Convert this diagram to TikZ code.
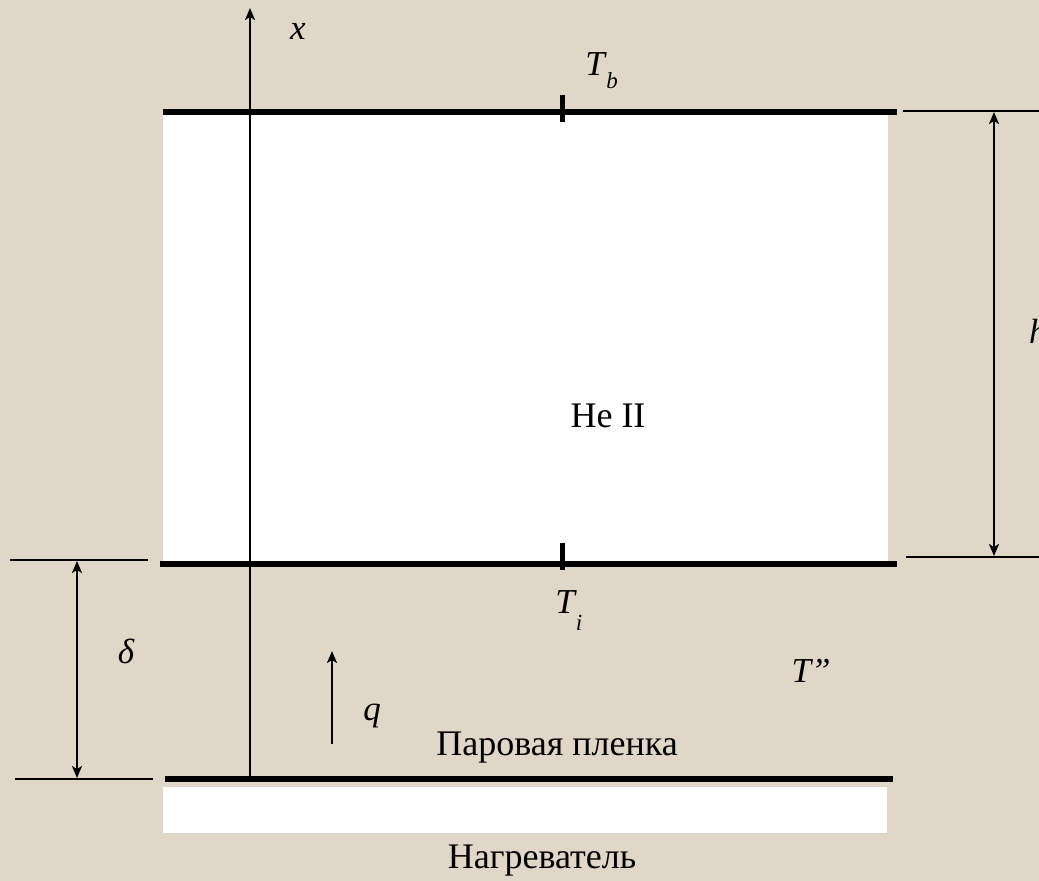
\documentclass[tikz,border=0pt]{standalone}
\usepackage{fontspec}
\setmainfont{Liberation Serif}
\usetikzlibrary{arrows.meta}
\definecolor{bg}{RGB}{224,215,201}
\tikzset{
  thickline/.style={line width=6pt},
  thinline/.style={line width=2pt},
  tip/.tip={Stealth[length=12pt,width=10pt,inset=3pt]},
  arr/.style={line width=2pt,-tip},
  darr/.style={line width=2pt,tip-tip},
  lbl/.style={inner sep=0pt,anchor=base,font=\fontsize{36}{42}\selectfont},
  ilbl/.style={inner sep=0pt,anchor=base,font=\fontsize{35}{42}\selectfont\itshape},
  sub/.style={inner sep=0pt,anchor=base,font=\fontsize{23}{28}\selectfont\itshape}
}
\begin{document}
\begin{tikzpicture}[x=1pt,y=-1pt]
\useasboundingbox (0,0) rectangle (1039,881);
\clip (0,0) rectangle (1039,881);
\fill[bg] (0,0) rectangle (1039,881);
% He II region
\fill[white] (163,112) rectangle (888,564);
% heater
\fill[white] (163,787) rectangle (887,833);
% boundaries
\coordinate (tl) at (163,112); \coordinate (tr) at (897,112);
\coordinate (bl) at (160,564); \coordinate (br) at (897,564);
\coordinate (hl) at (165,779); \coordinate (hr) at (893,779);
\draw[thickline] (tl) -- (tr);
\draw[thickline] (bl) -- (br);
\draw[thickline] (hl) -- (hr);
% ticks
\coordinate (tbt) at (562,95); \coordinate (tbb) at (562,122);
\coordinate (tit) at (562,543); \coordinate (tib) at (562,570);
\draw[line width=5pt] (tbt) -- (tbb);
\draw[line width=5pt] (tit) -- (tib);
% x axis
\coordinate (xa0) at (250,779); \coordinate (xa1) at (250,8);
\draw[arr] (xa0) -- (xa1);
\node[ilbl] (xl) at (298,39) {x};
% right dimension h
\coordinate (r1a) at (903,111); \coordinate (r1b) at (1039,111);
\coordinate (r2a) at (906,557); \coordinate (r2b) at (1039,557);
\draw[thinline] (r1a) -- (r1b);
\draw[thinline] (r2a) -- (r2b);
\coordinate (ha) at (994,112); \coordinate (hb) at (994,556);
\draw[darr] (ha) -- (hb);
\node[ilbl,anchor=base west] (hlab) at (1029,343) {h};
% left dimension delta
\coordinate (l1a) at (10,560); \coordinate (l1b) at (148,560);
\coordinate (l2a) at (15,779); \coordinate (l2b) at (153,779);
\draw[thinline] (l1a) -- (l1b);
\draw[thinline] (l2a) -- (l2b);
\coordinate (da) at (77,561); \coordinate (db) at (77,778);
\draw[darr] (da) -- (db);
\node[ilbl] (dl) at (126,663) {δ};
% q arrow
\coordinate (qa) at (332,744); \coordinate (qb) at (332,651);
\draw[arr] (qa) -- (qb);
\node[ilbl] (ql) at (372,720) {q};
% labels
\node[ilbl] (Tb) at (595,75) {T};
\node[sub] (Tbs) at (612,88) {b};
\node[ilbl] (Ti) at (565,613) {T};
\node[sub] (Tis) at (579,630) {i};
\node[ilbl] (Tpp) at (811,682) {T\textquotedblright};
\node[lbl] (he) at (608,427) {He II};
\node[lbl] (film) at (557,755) {Паровая пленка};
\node[lbl] (heater) at (542,868) {Нагреватель};
\end{tikzpicture}
\end{document}
